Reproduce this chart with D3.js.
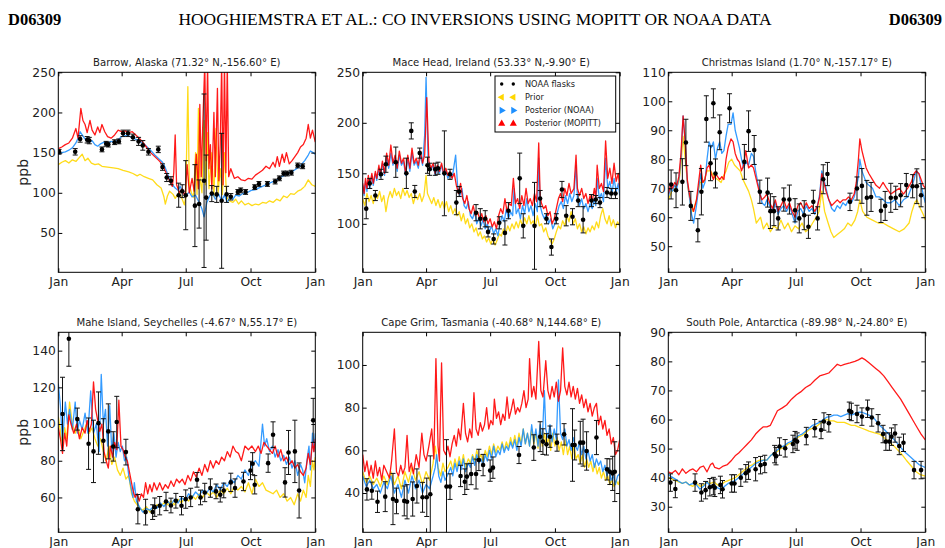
<!DOCTYPE html>
<html>
<head>
<meta charset="utf-8">
<script src="https://cdn.jsdelivr.net/npm/d3@7"></script>
<style>
  body { margin: 0; background: #fff; }
  svg text { font-family: "DejaVu Sans", sans-serif; fill: #222; }
  .hdr { font-family: "Liberation Serif", "DejaVu Serif", serif; fill: #000; }
</style>
</head>
<body>
<svg id="chart" width="945" height="548"></svg>
<script>
// ---- tick labels / categories ----
const MONTH_DAYS = [0, 90, 181, 273, 365];
const MONTH_LABELS = ['Jan', 'Apr', 'Jul', 'Oct', 'Jan'];
const STATIONS = [
  'Barrow, Alaska (71.32\u00B0 N,-156.60\u00B0 E)',
  'Mace Head, Ireland (53.33\u00B0 N,-9.90\u00B0 E)',
  'Christmas Island (1.70\u00B0 N,-157.17\u00B0 E)',
  'Mahe Island, Seychelles (-4.67\u00B0 N,55.17\u00B0 E)',
  'Cape Grim, Tasmania (-40.68\u00B0 N,144.68\u00B0 E)',
  'South Pole, Antarctica (-89.98\u00B0 N,-24.80\u00B0 E)'
];
const LEGEND_LABELS = ['NOAA flasks', 'Prior', 'Posterior (NOAA)', 'Posterior (MOPITT)'];

const Y_DOMAINS = [[1, 250], [52, 250], [41, 110], [41, 150], [21.6, 115.3], [21.2, 90]];
const Y_TICKS = [
  [50, 100, 150, 200, 250],
  [100, 150, 200, 250],
  [50, 60, 70, 80, 90, 100, 110],
  [60, 80, 100, 120, 140],
  [40, 60, 80, 100],
  [30, 40, 50, 60, 70, 80, 90]
];

// ---- series: [day of year, ppb] ----
const barrowPrior = [[0,135],[5,138],[10,140],[15,137],[20,141],[25,139],[30,144],[34,148],[38,140],[42,143],[47,137],[52,135],[57,136],[62,133],[70,132],[78,131],[85,130],[92,128],[100,126],[106,124],[112,121],[116,123],[122,120],[128,118],[134,116],[140,110],[146,106],[150,95],[152,86],[155,96],[158,102],[163,98],[166,93],[169,97],[172,100],[176,92],[179,85],[181,95],[184,232],[186,110],[189,100],[192,94],[195,150],[197,98],[199,205],[201,120],[204,100],[207,190],[209,110],[212,175],[214,105],[218,150],[221,95],[224,180],[227,100],[230,130],[233,98],[236,150],[239,95],[243,90],[248,88],[252,92],[256,86],[260,90],[265,85],[270,87],[275,84],[280,86],[285,85],[290,88],[295,87],[300,90],[305,88],[310,92],[315,90],[320,96],[325,94],[330,99],[335,98],[340,102],[345,104],[350,108],[355,116],[360,110],[365,108]];
const barrowNoaa = [[0,148],[5,150],[10,151],[15,153],[20,156],[25,162],[28,168],[31,176],[34,172],[37,168],[40,165],[44,163],[48,165],[52,160],[56,158],[60,161],[65,163],[70,162],[75,164],[80,163],[85,166],[90,170],[95,171],[100,171],[106,168],[112,166],[118,163],[124,159],[130,154],[137,147],[143,142],[148,138],[152,131],[155,124],[158,117],[162,110],[166,106],[170,103],[173,108],[177,100],[182,97],[186,101],[190,95],[195,97],[200,88],[204,80],[207,70],[211,88],[215,96],[219,100],[223,92],[228,98],[232,90],[236,97],[240,88],[244,95],[248,92],[252,97],[257,96],[262,99],[268,100],[274,103],[280,104],[285,106],[290,108],[295,110],[300,112],[305,114],[310,116],[315,119],[320,121],[325,124],[330,126],[335,128],[340,131],[345,135],[350,140],[355,147],[358,152],[362,150],[365,148]];
const barrowMopitt = [[0,155],[5,157],[10,160],[15,162],[20,168],[25,180],[28,168],[32,205],[35,190],[38,185],[41,175],[45,190],[48,178],[52,172],[56,182],[59,175],[62,185],[66,176],[70,170],[75,168],[80,172],[85,178],[90,176],[95,177],[100,175],[105,176],[110,172],[115,168],[120,163],[125,157],[131,150],[137,145],[143,140],[148,135],[153,125],[158,115],[162,108],[164,125],[166,172],[168,110],[172,100],[176,105],[180,95],[183,135],[186,100],[190,118],[193,102],[196,148],[199,105],[201,210],[203,120],[205,180],[208,260],[210,140],[212,260],[214,130],[216,160],[218,105],[221,200],[223,120],[226,230],[228,115],[230,160],[232,260],[234,110],[236,260],[238,125],[240,260],[242,120],[245,130],[250,118],[255,120],[260,116],[265,115],[270,118],[275,117],[280,122],[285,125],[290,128],[295,133],[300,130],[305,138],[308,132],[311,145],[314,133],[318,148],[321,138],[324,150],[328,136],[332,140],[336,145],[340,150],[344,157],[348,160],[352,168],[355,185],[358,168],[361,178],[365,163]];
const barrowFlasks = [[1,151,3],[24,151,4],[31,167,4],[41,166,4],[44,165,4],[62,154,3],[68,161,3],[71,160,3],[80,163,3],[86,164,3],[92,174,4],[99,174,4],[106,169,4],[114,164,5],[120,159,6],[128,151,4],[142,154,4],[148,132,4],[154,119,5],[160,115,5],[171,97,15],[176,102,8],[181,97,43],[194,84,51],[200,86,30],[207,115,108],[210,94,53],[218,99,10],[225,98,10],[232,90,84],[239,98,10],[245,95,4],[255,101,3],[259,103,3],[266,101,3],[279,107,3],[285,111,3],[297,111,3],[308,114,3],[314,118,3],[320,124,3],[325,124,3],[331,125,3],[340,134,3],[347,133,3]];

const maceNoaa = [[0,138],[2,128],[4,142],[6,132],[8,145],[10,135],[13,148],[15,138],[18,150],[20,143],[23,155],[25,146],[28,160],[31,148],[34,166],[37,155],[40,170],[43,158],[46,165],[49,152],[52,168],[55,158],[58,162],[61,148],[64,165],[67,152],[70,170],[73,158],[76,162],[79,155],[82,168],[85,158],[88,188],[90,245],[93,160],[97,153],[100,158],[103,148],[106,155],[109,150],[112,158],[115,148],[118,153],[121,145],[124,150],[127,145],[132,168],[135,135],[138,128],[141,135],[144,118],[147,115],[150,122],[153,108],[156,105],[159,112],[162,100],[165,106],[168,98],[171,104],[174,95],[177,100],[180,92],[183,98],[186,90],[189,95],[192,88],[195,100],[198,108],[201,102],[204,115],[207,105],[210,112],[213,108],[215,135],[218,110],[221,115],[224,105],[227,118],[230,110],[233,125],[236,112],[239,118],[242,108],[245,120],[248,112],[250,165],[252,118],[255,110],[258,105],[261,110],[264,100],[267,105],[270,95],[273,100],[276,110],[279,118],[282,122],[285,115],[288,128],[291,120],[294,130],[297,122],[300,128],[303,158],[305,125],[308,118],[311,125],[314,115],[317,120],[320,112],[323,120],[326,115],[329,125],[331,118],[333,145],[336,125],[339,130],[342,122],[345,165],[348,135],[351,142],[354,130],[357,145],[360,132],[363,140],[365,128]];
const maceMopitt = [[0,140],[2,130],[4,145],[6,135],[8,148],[10,138],[13,150],[15,140],[18,152],[20,145],[23,158],[25,148],[28,162],[31,150],[34,170],[37,158],[40,178],[43,160],[46,168],[49,155],[52,172],[55,160],[58,165],[61,150],[64,168],[67,155],[70,175],[73,160],[76,165],[79,158],[82,172],[85,160],[88,168],[91,225],[94,162],[97,155],[100,160],[103,150],[106,158],[109,152],[112,160],[115,150],[118,155],[121,148],[124,152],[127,145],[130,150],[133,138],[136,130],[139,140],[142,125],[145,120],[148,128],[151,115],[154,110],[157,118],[160,108],[163,112],[166,105],[169,110],[172,102],[175,108],[178,100],[181,105],[184,97],[187,102],[190,95],[193,108],[196,115],[199,110],[202,125],[205,112],[208,120],[211,118],[214,145],[217,120],[220,125],[223,115],[226,128],[229,118],[232,135],[235,120],[238,125],[241,118],[244,130],[247,122],[250,180],[252,128],[254,120],[257,115],[260,118],[263,108],[266,112],[269,100],[272,105],[275,115],[278,125],[281,130],[284,122],[287,135],[290,128],[293,140],[296,130],[300,135],[303,168],[305,135],[308,128],[311,135],[314,125],[317,130],[320,120],[323,128],[326,122],[329,135],[331,125],[333,158],[336,135],[339,140],[342,132],[345,182],[348,145],[351,155],[354,140],[357,160],[360,142],[363,150],[365,135]];
const macePrior = [[0,125],[3,118],[6,130],[9,122],[12,128],[15,120],[18,130],[21,125],[24,132],[27,122],[30,128],[33,112],[36,125],[39,132],[42,126],[45,135],[48,128],[51,132],[54,125],[57,135],[60,128],[63,133],[66,126],[69,130],[72,120],[75,128],[78,124],[81,130],[84,122],[87,128],[90,148],[92,130],[95,125],[98,120],[101,126],[104,118],[107,124],[110,116],[113,122],[116,115],[119,122],[122,112],[125,118],[128,110],[131,115],[134,108],[137,112],[140,103],[143,110],[146,100],[149,105],[152,96],[155,100],[158,92],[161,96],[164,88],[167,92],[170,85],[173,88],[176,82],[179,86],[182,80],[185,85],[188,79],[191,84],[194,90],[197,88],[200,95],[203,90],[206,98],[209,93],[212,100],[215,95],[218,102],[221,96],[224,104],[227,98],[230,106],[233,100],[236,108],[239,100],[242,103],[245,96],[248,108],[251,98],[254,100],[257,92],[260,96],[263,88],[266,84],[269,80],[272,85],[275,92],[278,98],[281,95],[284,103],[287,98],[290,108],[293,102],[296,112],[299,100],[302,105],[305,95],[308,100],[311,92],[314,97],[317,90],[320,96],[323,92],[326,98],[329,94],[332,102],[335,96],[338,108],[341,115],[344,105],[347,100],[350,108],[353,98],[356,104],[359,96],[362,102],[365,98]];
const maceFlasks = [[5,115,10],[10,140,5],[18,128,5],[26,149,5],[33,159,8],[47,161,15],[62,150,15],[69,192,8],[74,132,6],[81,170,5],[92,158,8],[95,154,6],[103,154,6],[107,155,6],[116,150,42],[124,149,5],[133,121,12],[137,132,5],[161,111,8],[167,105,10],[174,105,8],[178,92,5],[186,85,5],[194,101,6],[202,91,12],[207,113,8],[223,145,25],[228,98,12],[244,98,43],[252,125,8],[261,105,5],[268,77,8],[275,105,5],[283,134,8],[289,108,10],[298,107,8],[306,123,6],[313,104,13],[325,123,6],[331,124,4],[337,121,5],[347,131,5],[353,130,5],[359,130,5]];

const xmasNoaa = [[0,67],[3,70],[6,69],[9,71],[12,70],[15,73],[18,80],[21,95],[24,86],[27,72],[30,67],[33,61],[36,58],[40,64],[43,70],[46,75],[49,70],[52,72],[55,80],[58,86],[61,84],[64,86],[67,80],[70,84],[73,86],[76,82],[79,83],[82,88],[85,92],[89,92],[92,96],[95,90],[98,87],[101,84],[104,80],[107,77],[110,79],[114,78],[118,82],[121,81],[124,76],[127,72],[130,69],[133,65],[137,64],[140,66],[144,64],[148,62],[152,65],[156,61],[160,63],[164,64],[168,62],[172,64],[176,61],[180,58],[184,62],[188,63],[192,61],[196,64],[200,62],[204,63],[208,61],[212,64],[215,68],[218,76],[221,73],[224,70],[228,66],[232,63],[236,62],[240,64],[244,63],[248,65],[252,64],[256,66],[260,65],[264,67],[267,70],[270,74],[272,80],[275,76],[278,74],[281,72],[285,71],[290,70],[295,67],[300,67],[305,66],[310,65],[316,65],[322,66],[328,64],[334,66],[340,67],[345,70],[349,73],[352,76],[356,75],[359,71],[362,68],[365,65]];
const xmasMopitt = [[0,68],[3,71],[6,70],[9,72],[12,71],[15,74],[18,82],[21,95],[24,86],[27,73],[30,68],[33,64],[36,62],[40,66],[43,72],[46,78],[49,72],[52,73],[55,77],[58,78],[61,75],[64,73],[67,75],[70,74],[73,73],[76,74],[79,73],[82,80],[85,84],[89,87],[92,86],[95,82],[98,80],[101,79],[104,76],[107,78],[110,83],[114,77],[118,78],[121,77],[124,74],[127,71],[130,68],[133,66],[137,67],[140,68],[144,65],[148,63],[152,66],[156,62],[160,64],[164,66],[168,63],[172,65],[176,62],[180,60],[184,64],[188,65],[192,63],[196,65],[200,63],[204,64],[208,62],[212,64],[215,67],[218,75],[221,72],[224,69],[228,66],[232,64],[236,65],[240,66],[244,65],[248,66],[252,66],[256,67],[260,66],[264,68],[267,72],[270,80],[272,87],[275,83],[278,80],[281,77],[285,75],[290,73],[295,71],[300,70],[305,72],[310,70],[316,68],[322,69],[328,70],[334,68],[340,70],[345,72],[349,75],[352,76],[356,75],[359,73],[362,71],[365,70]];
const xmasPrior = [[0,66],[5,69],[10,70],[15,72],[18,78],[21,88],[24,80],[28,70],[32,64],[35,62],[40,66],[45,72],[50,72],[55,76],[60,76],[65,74],[70,73],[75,72],[78,74],[82,76],[86,79],[90,80],[94,78],[98,77],[102,76],[106,73],[110,71],[114,69],[118,66],[121,63],[125,58],[128,59],[131,60],[135,56],[140,58],[145,55],[150,57],[155,56],[160,59],[165,56],[170,58],[175,55],[180,57],[185,56],[190,58],[195,55],[200,56],[205,58],[210,60],[214,62],[218,69],[222,62],[227,58],[231,55],[235,53],[240,54],[245,55],[250,56],[255,58],[260,57],[265,59],[269,62],[272,66],[276,62],[282,60],[290,59],[298,58],[305,58],[312,57],[320,56],[328,55],[335,56],[342,58],[346,62],[350,65],[353,66],[358,63],[362,61],[365,59]];
const xmasFlasks = [[4,71.3,5],[11,69.3,6],[20,72.2,8],[25,85.8,8],[32,63.9,5],[42,55.5,4],[47,68.8,8],[54,93.9,8],[60,78.6,6],[64,99.3,5],[67,75.1,5],[73,89.3,6],[87,97.6,5],[108,79.1,6],[114,89.7,7],[122,83.2,5],[130,68.8,4],[141,68.5,5],[145,62.1,6],[150,62.1,5],[156,59.6,4],[164,66.1,4],[172,66.1,5],[180,62.4,4],[186,59.6,5],[193,60.7,5],[199,56.7,4],[206,65.3,4],[212,59.6,4],[220,73.1,5],[226,74.9,4],[258,65.3,3],[268,69.9,4],[275,70.8,6],[282,66.7,6],[288,67,5],[302,62.2,4],[308,63.9,5],[316,66.7,5],[323,66.7,4],[330,67.6,4],[338,71.1,4],[347,70.7,4],[353,70.7,6],[359,67.6,4]];

const maheNoaa = [[0,122],[3,110],[6,90],[10,112],[13,100],[16,108],[20,97],[24,112],[27,95],[30,102],[34,97],[38,106],[42,95],[46,118],[50,95],[54,100],[58,85],[61,127],[64,100],[67,108],[70,88],[73,110],[76,85],[79,95],[82,82],[85,90],[88,85],[91,88],[94,80],[97,82],[100,72],[103,66],[106,60],[108,68],[111,58],[115,55],[120,52],[125,54],[130,53],[135,55],[140,54],[145,57],[150,55],[155,58],[160,56],[165,59],[170,57],[175,60],[180,58],[185,62],[190,60],[195,63],[200,61],[205,64],[210,62],[215,65],[220,63],[225,67],[230,64],[235,68],[240,66],[245,70],[250,68],[255,72],[260,70],[265,75],[270,72],[275,78],[280,80],[285,77],[290,100],[293,88],[296,92],[300,85],[304,88],[308,82],[312,86],[316,80],[320,83],[324,78],[328,82],[332,76],[336,80],[340,72],[344,78],[347,75],[350,68],[353,80],[356,88],[358,75],[361,95],[363,85],[365,95]];
const maheMopitt = [[0,98],[3,92],[6,84],[9,95],[12,88],[15,105],[18,100],[22,95],[26,100],[30,92],[34,98],[38,95],[41,102],[44,96],[47,100],[50,123],[53,108],[56,102],[59,96],[62,100],[65,85],[68,80],[71,76],[74,88],[77,82],[80,90],[83,86],[86,113],[89,88],[92,86],[95,82],[98,80],[100,76],[103,70],[106,64],[109,60],[112,62],[115,58],[118,62],[121,60],[124,68],[127,62],[130,67],[133,63],[136,68],[140,64],[144,68],[148,64],[152,67],[156,65],[160,69],[164,66],[168,70],[172,68],[176,70],[180,67],[184,72],[188,69],[192,74],[196,71],[200,76],[204,72],[208,78],[212,74],[216,80],[220,76],[224,80],[228,78],[232,82],[236,80],[240,85],[244,82],[248,88],[252,85],[256,84],[260,80],[265,88],[270,86],[275,88],[280,85],[284,88],[288,84],[292,90],[296,88],[300,86],[304,84],[308,88],[312,82],[316,86],[320,80],[324,82],[328,78],[332,80],[336,76],[340,78],[344,74],[348,72],[352,76],[355,84],[358,78],[361,90],[363,85],[365,92]];
const mahePrior = [[0,104],[3,96],[6,88],[9,98],[12,92],[16,112],[20,100],[24,95],[28,98],[32,92],[36,96],[40,100],[44,95],[48,98],[52,92],[56,88],[60,92],[64,85],[68,80],[72,88],[76,78],[80,82],[84,75],[88,72],[92,76],[96,70],[100,72],[104,62],[108,58],[112,56],[116,54],[120,53],[125,55],[130,52],[135,54],[140,56],[145,55],[150,57],[155,56],[160,58],[165,56],[170,59],[175,57],[180,60],[185,58],[190,61],[195,59],[200,62],[205,60],[210,63],[215,61],[220,63],[225,60],[230,64],[235,62],[240,65],[245,62],[250,66],[255,64],[260,66],[265,63],[270,68],[275,62],[280,70],[285,66],[290,68],[295,64],[300,63],[305,62],[310,64],[315,60],[320,62],[325,58],[330,60],[335,56],[340,62],[344,58],[348,64],[352,60],[355,72],[358,66],[361,80],[363,75],[365,82]];
const maheFlasks = [[6,105.5,20],[15,146.5,15],[27,102.7,6],[43,89.3,14],[50,85.1,17],[57,100.5,17],[64,90.9,12],[71,96,15],[78,87.8,8],[83,101.1,14],[96,84.7,7],[113,53.6,8],[124,52,7],[134,52,4],[137,54.7,5],[144,55.5,5],[153,57.8,5],[160,55.6,4],[167,58.2,4],[175,55.5,5],[181,59.1,5],[188,60,5],[197,69.6,4],[202,60,4],[208,62.7,5],[216,65.1,5],[224,63.3,4],[230,61.5,4],[235,63.8,4],[245,68.2,5],[251,65.1,5],[263,68.7,5],[273,74.7,5],[276,78.4,6],[279,66.9,5],[298,78.7,5],[305,94.2,7],[322,68.2,8],[327,84.5,12],[336,85.1,17],[342,63.8,15],[362,102,12]];

const capeNoaa = [[0,48],[5,43],[10,46],[15,42],[20,44],[25,40],[30,45],[35,42],[40,48],[45,40],[50,44],[55,38],[60,46],[65,40],[70,48],[75,42],[80,46],[85,40],[90,44],[95,42],[100,48],[103,52],[105,58],[108,48],[111,45],[114,50],[117,46],[120,48],[125,52],[128,48],[131,54],[134,50],[137,55],[140,51],[143,56],[146,50],[150,54],[153,52],[156,57],[159,53],[162,58],[165,54],[168,56],[171,53],[174,58],[177,55],[180,60],[183,56],[186,62],[189,57],[192,60],[195,58],[198,63],[201,59],[204,62],[207,60],[210,64],[213,61],[216,65],[219,60],[222,66],[225,62],[228,70],[231,63],[234,68],[237,62],[240,72],[243,64],[246,70],[249,62],[252,72],[255,64],[258,88],[260,70],[263,66],[266,72],[269,64],[272,70],[275,65],[278,93],[281,68],[284,65],[287,70],[290,62],[293,65],[296,60],[299,66],[302,62],[305,60],[308,64],[311,58],[314,62],[317,56],[320,60],[323,55],[326,58],[329,52],[332,56],[335,53],[338,55],[341,50],[344,53],[347,48],[350,52],[353,46],[356,48],[359,44],[362,48],[365,49]];
const capeMopitt = [[0,58],[3,50],[6,55],[9,48],[12,53],[15,47],[18,55],[21,48],[24,52],[27,46],[30,53],[34,50],[38,47],[41,55],[45,70],[48,50],[51,48],[54,53],[57,49],[60,52],[63,67],[66,50],[69,54],[72,49],[76,58],[80,52],[84,68],[87,58],[90,55],[94,62],[98,70],[101,56],[104,103],[107,62],[109,55],[112,101],[115,60],[118,58],[121,62],[124,57],[127,63],[130,67],[133,62],[136,70],[139,65],[143,82],[146,68],[149,64],[152,70],[155,66],[158,87],[161,70],[164,67],[167,73],[170,69],[173,72],[176,80],[179,70],[182,74],[185,72],[187,84],[190,75],[193,78],[196,72],[199,77],[202,74],[205,85],[208,75],[211,79],[214,84],[217,77],[220,80],[223,78],[226,82],[229,88],[232,80],[235,84],[237,103],[240,85],[243,90],[246,84],[250,111],[253,88],[256,85],[260,102],[263,88],[266,84],[269,90],[272,85],[275,92],[278,83],[281,88],[284,108],[287,90],[290,86],[293,92],[296,85],[299,90],[302,84],[305,89],[308,82],[311,86],[314,80],[317,84],[320,78],[323,82],[326,76],[329,80],[332,82],[335,72],[338,76],[341,70],[344,74],[347,67],[350,70],[353,63],[356,66],[359,58],[362,60],[365,65]];
const capePrior = [[0,50],[5,45],[10,48],[15,44],[20,47],[25,43],[30,48],[35,44],[40,50],[45,44],[50,48],[55,42],[60,50],[65,45],[70,52],[75,46],[80,50],[85,44],[90,50],[95,46],[100,54],[103,62],[107,52],[111,48],[114,54],[117,50],[121,52],[125,55],[128,51],[131,56],[134,52],[137,57],[140,53],[143,58],[146,52],[150,56],[153,54],[156,58],[159,55],[162,60],[165,56],[168,58],[171,55],[174,60],[177,57],[180,62],[183,58],[186,63],[189,59],[192,62],[195,60],[198,64],[201,60],[204,64],[207,61],[210,66],[213,62],[216,67],[219,62],[222,68],[225,63],[228,70],[231,63],[234,68],[237,62],[240,70],[243,63],[246,68],[249,61],[252,70],[255,62],[258,68],[261,62],[264,66],[267,60],[270,68],[273,62],[276,66],[279,60],[282,64],[285,58],[288,65],[291,58],[294,62],[297,56],[300,62],[303,56],[306,58],[309,54],[312,58],[315,52],[318,56],[321,52],[324,55],[327,50],[330,54],[333,49],[336,52],[339,47],[342,50],[345,46],[348,48],[351,44],[354,46],[357,43],[360,46],[363,44],[365,46]];
const capeFlasks = [[6,41.7,5],[13,41.1,4],[21,35.9,5],[32,38.3,7],[43,37.2,12],[48,36.3,6],[59,36.3,7],[63,35.9,8],[71,37.2,8],[77,43.3,8],[85,38,7],[91,38,9],[96,39.4,18],[119,43,22],[124,43,6],[139,48,5],[145,45.3,6],[148,47.7,6],[154,48.9,5],[161,48.9,7],[165,55.5,5],[171,53.1,5],[181,50.5,5],[185,51.9,5],[222,57.8,4],[243,61.3,6],[252,66.4,7],[256,64.1,6],[261,62.8,5],[266,66.4,5],[276,63.6,4],[286,67.5,5],[298,62.5,17],[301,62.5,7],[309,63.6,10],[313,63.6,11],[318,59.7,9],[332,66,8],[347,51.1,5],[351,50,6],[355,49.2,8],[358,50,14]];

const poleNoaa = [[0,41],[10,39.5],[20,38],[25,38.5],[30,37.5],[35,38],[40,37.5],[45,36],[50,37],[55,38.5],[60,37],[65,37.5],[70,36.5],[75,36],[80,37],[85,38],[90,38.5],[95,39],[100,40],[105,41],[110,42],[115,43],[120,44],[125,45],[130,45.5],[135,46],[140,46],[145,47.5],[150,48.5],[155,49.5],[160,50.5],[165,51],[170,52],[175,52.5],[180,53.5],[185,54.5],[190,55],[195,56],[200,57],[205,58],[210,58.5],[215,59],[220,60],[225,60.8],[230,61],[235,61.5],[240,61.5],[245,61],[250,61.5],[255,62],[260,61.5],[265,62],[270,62.5],[275,62.5],[280,62],[285,61.5],[292,60.5],[300,58],[307,56.5],[315,54.5],[321,53],[328,51],[335,49],[342,47.5],[349,46],[356,44.5],[365,43.5]];
const poleMopitt = [[0,42],[5,41.5],[10,42.5],[15,41],[20,43],[25,41.5],[30,42.5],[35,43],[40,42],[45,43.5],[50,44],[55,42],[60,44.5],[63,45],[66,43.5],[72,43],[78,44],[84,44.5],[90,46],[95,47.5],[100,48.5],[106,50],[112,51.5],[118,53],[124,55],[130,56.5],[135,57.5],[140,57.5],[145,58],[150,60.5],[155,63],[162,64],[168,65],[175,67],[182,68.5],[188,69.5],[195,71],[202,72],[208,73.5],[215,75],[222,75.5],[228,76],[234,77.5],[240,79],[245,78.5],[250,79],[258,79.5],[265,80],[270,80.5],[275,81.2],[280,80.5],[285,79.5],[290,78.5],[295,77.5],[300,76.5],[306,75],[312,73],[318,71],[324,69],[330,67],[336,64.5],[342,62],[348,59.5],[354,57],[359,55],[365,53]];
const polePrior = [[0,40],[10,39],[20,38],[25,38.5],[30,37.5],[35,37],[40,38],[45,37],[50,37.5],[55,38.5],[60,38],[65,38.5],[70,37.5],[75,37.5],[80,38.5],[85,39],[90,39.5],[95,40],[100,41],[105,42],[110,43],[115,44],[120,44.5],[125,45.5],[130,46],[135,46],[140,46],[145,47.5],[150,48.5],[155,49],[160,50],[165,50.5],[170,51.5],[175,52],[180,53],[185,54],[190,54.5],[195,55.5],[200,56.5],[205,57],[210,57.5],[215,58.5],[220,59.5],[225,60],[230,59.5],[235,59.5],[240,59],[245,59],[250,59],[255,58.5],[260,58],[265,58],[270,57.5],[275,57],[280,56.5],[285,56],[292,55.5],[300,55],[310,53],[320,51],[330,48.5],[338,46],[345,44],[352,42],[358,41],[365,40.5]];
const poleFlasks = [[3,38.3,3],[10,36.1,3],[38,38.3,3],[47,34.9,3],[53,35.7,3],[59,36.7,3],[64,37.1,3],[66,36.5,3],[74,37.5,3],[77,36,3],[90,38,3],[94,38,3],[103,40,3],[110,41.5,3],[114,42.4,3],[124,42.9,4],[131,44.3,3],[137,44.7,3],[151,48.1,3],[153,47.4,3],[158,50.7,3],[166,50.1,3],[177,51.6,3],[180,52.9,3],[183,52.4,3],[196,54.3,3],[208,57,3],[217,56.4,3],[221,59.3,3],[228,58.7,3],[257,63,3],[260,62.6,3],[268,61.9,3],[275,61,3],[283,63.7,3],[289,60.7,3],[298,58.7,3],[305,55,3],[309,52.4,3],[314,52.4,3],[317,54.1,3],[322,55.2,3],[328,50.9,3],[334,52,3],[349,42.6,3],[359,42.6,3]];

// ---- styling ----
const COLORS = { flask: '#000', prior: '#ffd700', noaa: '#1e90ff', mopitt: '#ff0000' };
const colX = [58.3, 362.7, 668.3];
const rowY = [72.3, 332.3];
const pw = 257, ph = 200;

const panels = [
  { prior: barrowPrior, noaa: barrowNoaa, mopitt: barrowMopitt, flasks: barrowFlasks },
  { prior: macePrior, noaa: maceNoaa, mopitt: maceMopitt, flasks: maceFlasks, legend: true },
  { prior: xmasPrior, noaa: xmasNoaa, mopitt: xmasMopitt, flasks: xmasFlasks },
  { prior: mahePrior, noaa: maheNoaa, mopitt: maheMopitt, flasks: maheFlasks },
  { prior: capePrior, noaa: capeNoaa, mopitt: capeMopitt, flasks: capeFlasks },
  { prior: polePrior, noaa: poleNoaa, mopitt: poleMopitt, flasks: poleFlasks }
];

const svg = d3.select('#chart');
svg.append('rect').attr('width', 945).attr('height', 548).attr('fill', '#fff');

// page header
svg.append('text').attr('class', 'hdr').attr('x', 8).attr('y', 25)
  .attr('font-size', 16.5).attr('font-weight', 'bold').text('D06309');
svg.append('text').attr('class', 'hdr').attr('x', 942).attr('y', 25)
  .attr('font-size', 16.5).attr('font-weight', 'bold').attr('text-anchor', 'end').text('D06309');
svg.append('text').attr('class', 'hdr').attr('x', 475).attr('y', 25)
  .attr('font-size', 17.4).attr('text-anchor', 'middle')
  .attr('textLength', 593).attr('lengthAdjust', 'spacingAndGlyphs')
  .text('HOOGHIEMSTRA ET AL.: CO INVERSIONS USING MOPITT OR NOAA DATA');

const x = d3.scaleLinear().domain([0, 365]).range([0, pw]);

panels.forEach((p, i) => {
  const col = i % 3, row = Math.floor(i / 3);
  const y = d3.scaleLinear().domain(Y_DOMAINS[i]).range([ph, 0]);
  const g = svg.append('g').attr('transform', `translate(${colX[col]},${rowY[row]})`);

  g.append('clipPath').attr('id', 'clip' + i)
    .append('rect').attr('width', pw).attr('height', ph);

  const line = d3.line().x(d => x(d[0])).y(d => y(d[1]));
  const plot = g.append('g').attr('clip-path', `url(#clip${i})`);

  [['prior', p.prior], ['noaa', p.noaa], ['mopitt', p.mopitt]].forEach(([k, data]) => {
    plot.append('path').datum(data)
      .attr('fill', 'none')
      .attr('stroke', COLORS[k])
      .attr('stroke-width', 1.3)
      .attr('stroke-opacity', 0.9)
      .attr('stroke-linejoin', 'round')
      .attr('d', line);
  });

  // flask points with error bars
  const fl = plot.selectAll('g.flask').data(p.flasks).enter().append('g')
    .attr('transform', d => `translate(${x(d[0])},0)`);
  fl.append('line')
    .attr('y1', d => y(d[1] - d[2])).attr('y2', d => y(d[1] + d[2]))
    .attr('stroke', '#111').attr('stroke-width', 1);
  [-1, 1].forEach(s => {
    fl.append('line')
      .attr('x1', -2.5).attr('x2', 2.5)
      .attr('y1', d => y(d[1] + s * d[2])).attr('y2', d => y(d[1] + s * d[2]))
      .attr('stroke', '#111').attr('stroke-width', 1);
  });
  fl.append('circle').attr('cy', d => y(d[1])).attr('r', 2.3).attr('fill', '#000');

  // axes: inward ticks on all four sides
  const xb = g.append('g').attr('transform', `translate(0,${ph})`)
    .call(d3.axisBottom(x).tickValues(MONTH_DAYS).tickFormat((d, j) => MONTH_LABELS[j])
      .tickSizeInner(-4).tickSizeOuter(0).tickPadding(4.5));
  const xt = g.append('g')
    .call(d3.axisTop(x).tickValues(MONTH_DAYS).tickFormat('').tickSizeInner(-4).tickSizeOuter(0));
  const yl = g.append('g')
    .call(d3.axisLeft(y).tickValues(Y_TICKS[i]).tickSizeInner(-4).tickSizeOuter(0).tickPadding(2.5));
  const yr = g.append('g').attr('transform', `translate(${pw},0)`)
    .call(d3.axisRight(y).tickValues(Y_TICKS[i]).tickFormat('').tickSizeInner(-4).tickSizeOuter(0));
  [xb, xt, yl, yr].forEach(a => {
    a.select('.domain').remove();
    a.selectAll('line').attr('stroke', '#000');
    a.selectAll('text').attr('font-size', 12.3).attr('fill', '#222')
      .attr('font-family', '"DejaVu Sans", sans-serif');
  });

  g.append('rect').attr('width', pw).attr('height', ph)
    .attr('fill', 'none').attr('stroke', '#000').attr('stroke-width', 1);

  g.append('text').attr('x', pw / 2).attr('y', -6).attr('text-anchor', 'middle')
    .attr('font-size', 10.1).text(STATIONS[i]);

  if (col === 0) {
    g.append('text').attr('transform', `translate(-30,${ph / 2}) rotate(-90)`)
      .attr('text-anchor', 'middle').attr('font-size', 14).text('ppb');
  }

  if (p.legend) {
    const lg = g.append('g').attr('transform', 'translate(132.3,3.7)');
    lg.append('rect').attr('width', 120.7).attr('height', 56)
      .attr('fill', '#fff').attr('stroke', '#000').attr('stroke-width', 1);
    const keys = ['flask', 'prior', 'noaa', 'mopitt'];
    const rots = [0, -90, 90, 0];
    keys.forEach((k, j) => {
      const ey = 8 + j * 13.2;
      [6.7, 18.3].forEach(mx => {
        if (k === 'flask') {
          lg.append('circle').attr('cx', mx).attr('cy', ey).attr('r', 1.7).attr('fill', '#000');
        } else {
          lg.append('path').attr('d', d3.symbol().type(d3.symbolTriangle).size(22)())
            .attr('transform', `translate(${mx},${ey}) rotate(${rots[j]})`)
            .attr('fill', COLORS[k]);
        }
      });
      lg.append('text').attr('x', 30).attr('y', ey).attr('dy', '0.35em')
        .attr('font-size', 8.2).text(LEGEND_LABELS[j]);
    });
  }
});
</script>
</body>
</html>
